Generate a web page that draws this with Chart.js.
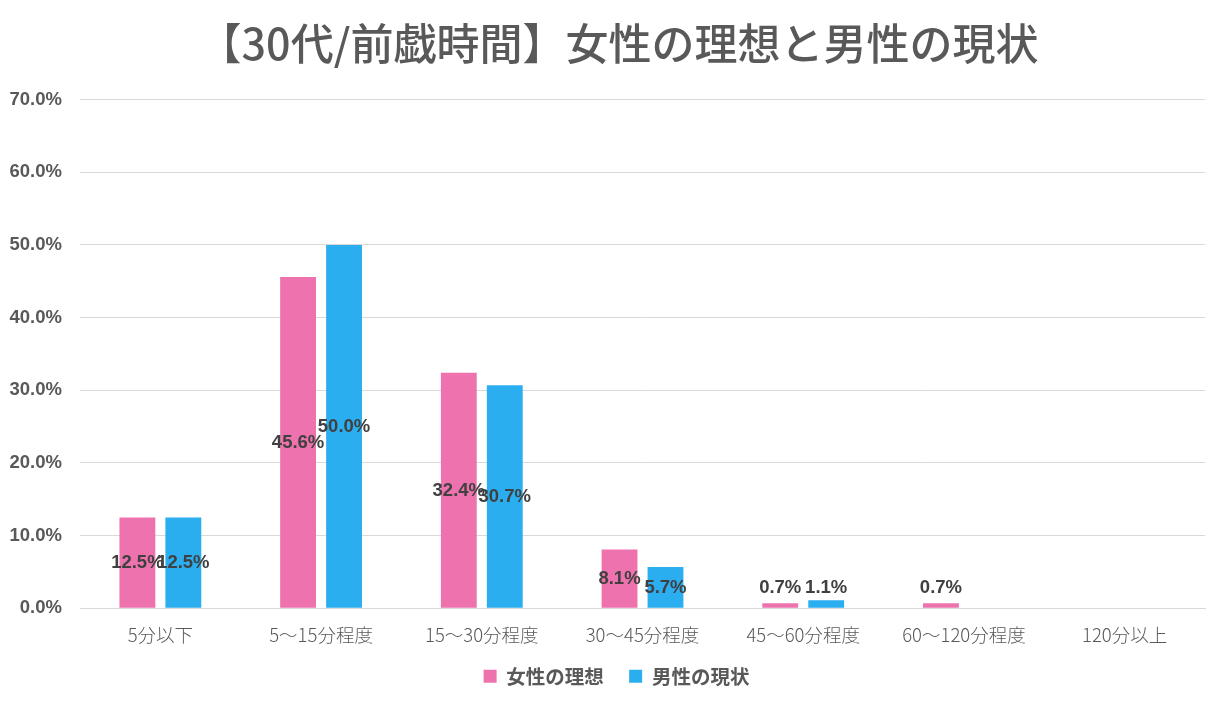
<!DOCTYPE html>
<html>
<head>
<meta charset="utf-8">
<script src="https://cdn.jsdelivr.net/npm/chart.js@4"></script>
<style>
  body { margin: 0; background: #fff; }
  #wrap { width: 1218px; height: 704px; }
</style>
</head>
<body>
<div id="wrap"><canvas id="chart"></canvas></div>
<script>
// Chart data
let categories = ['5分以下', '5～15分程度', '15～30分程度', '30～45分程度', '45～60分程度', '60～120分程度', '120分以上'];
let womenIdeal = [12.5, 45.6, 32.4, 8.1, 0.7, 0.7, null];
let menReality = [12.5, 50.0, 30.7, 5.7, 1.1, null, null];
let yTicks = [0, 10, 20, 30, 40, 50, 60, 70];

let gray = '#595959';
let jpFont = '"Noto Sans CJK JP", "Noto Sans", sans-serif';
let numFont = '"Liberation Sans", Arial, sans-serif';

// Value labels drawn in the bar middle, kept clear of the axis
let valueLabels = {
  id: 'valueLabels',
  afterDatasetsDraw(chart) {
    let ctx = chart.ctx;
    let base = chart.scales.y.getPixelForValue(0);
    ctx.save();
    ctx.font = 'bold 18.5px ' + numFont;
    ctx.fillStyle = '#404040';
    ctx.textAlign = 'center';
    ctx.textBaseline = 'middle';
    chart.data.datasets.forEach((ds, i) => {
      chart.getDatasetMeta(i).data.forEach((bar, j) => {
        let v = ds.data[j];
        if (v == null) return;
        let y = Math.min((bar.y + base) / 2, base - 20);
        ctx.fillText(v.toFixed(1) + '%', bar.x, y);
      });
    });
    ctx.restore();
  }
};

// Nudge title and legend a little right, like the original
let nudge = {
  id: 'nudge',
  afterLayout(chart) {
    chart.titleBlock.left += 24;
    chart.legend.left += 10;
    chart.legend.right += 10;
  }
};

let chart = new Chart(document.getElementById('chart'), {
  type: 'bar',
  data: {
    labels: categories,
    datasets: [{
      label: '女性の理想',
      data: womenIdeal,
      backgroundColor: '#ED72AD',
    }, {
      label: '男性の現状',
      data: menReality,
      backgroundColor: '#2BAEEF',
    }],
  },
  options: {
    responsive: true,
    maintainAspectRatio: false,
    animation: false,
    categoryPercentage: 0.572,
    barPercentage: 0.78,
    layout: { padding: { left: 8, right: 13, top: 0, bottom: 8 } },
    scales: {
      x: {
        grid: { display: false },
        border: { color: '#d9d9d9' },
        ticks: {
          color: gray,
          font: { family: jpFont, size: 18.5, weight: '300' },
          padding: 8,
        },
      },
      y: {
        min: 0,
        max: 70,
        afterBuildTicks: axis => { axis.ticks = yTicks.map(v => ({ value: v })); },
        afterFit: axis => { axis.width = 72; },
        grid: { color: '#d9d9d9', drawTicks: false },
        border: { display: false },
        ticks: {
          color: gray,
          font: { family: numFont, size: 18.5, weight: 'bold' },
          padding: 18,
          callback: v => v.toFixed(1) + '%',
        },
      },
    },
    plugins: {
      title: {
        display: true,
        text: '【30代/前戯時間】女性の理想と男性の現状',
        color: gray,
        font: { family: jpFont, size: 43, weight: '500' },
        padding: { top: 18, bottom: 30 },
      },
      legend: {
        position: 'bottom',
        labels: {
          color: gray,
          font: { family: jpFont, size: 19.5, weight: 'bold' },
          boxWidth: 13,
          boxHeight: 13,
          padding: 12,
          generateLabels: chart => {
            let items = Chart.defaults.plugins.legend.labels.generateLabels(chart);
            items[0].text += '   ';
            return items;
          },
        },
      },
      tooltip: { enabled: false },
    },
  },
  plugins: [valueLabels, nudge],
});
</script>
</body>
</html>
